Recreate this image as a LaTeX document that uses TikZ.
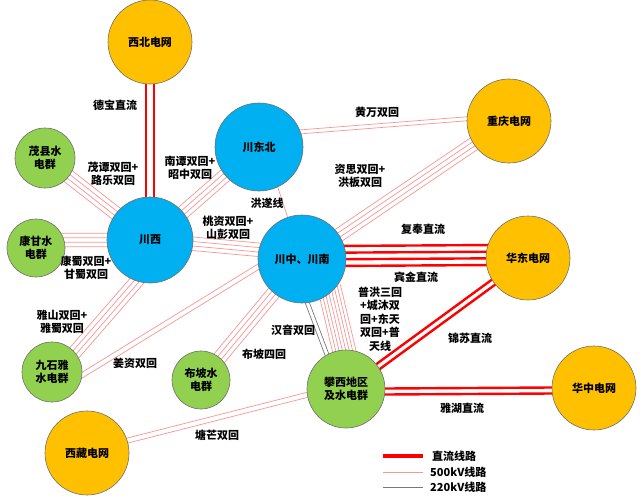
\documentclass[tikz,border=0pt]{standalone}
\usepackage{fontspec}
\newfontfamily\cjk{Noto Sans CJK SC}
\usetikzlibrary{calc}
\definecolor{ogrid}{HTML}{FFC000}
\definecolor{bgrid}{HTML}{00B0F0}
\definecolor{ggrid}{HTML}{92D050}
\definecolor{kvfive}{RGB}{247,150,150}
\definecolor{kvtwo}{RGB}{120,120,120}
\definecolor{dcred}{RGB}{255,0,0}
\definecolor{rim}{RGB}{110,110,110}
\newcommand{\lblfont}{\cjk\bfseries\fontsize{11}{13.5}\selectfont}
\pgfdeclarelayer{bg}
\pgfsetlayers{bg,main}
\newcommand{\bundle}[6]{%
  \foreach \o in {#5}{%
    \draw[#6] ($(#1.#2)!\o pt!90:(#3.#4)$) -- ($(#3.#4)!\o pt!-90:(#1.#2)$);
  }}
\tikzset{
  grid/.style={circle, draw=rim, line width=0.6pt, inner sep=0pt, align=center, font=\lblfont, text=black},
  lbl/.style={align=center, font=\lblfont, text=black, inner sep=1pt},
  kvfiveline/.style={draw=kvfive, line width=0.7pt, shorten <=-6pt, shorten >=-6pt},
  kvtwoline/.style={draw=kvtwo, line width=0.7pt, shorten <=-6pt, shorten >=-6pt},
  dcline/.style={draw=dcred, line width=2.4pt, shorten <=-6pt, shorten >=-6pt},
}
\begin{document}
\begin{tikzpicture}[x=1pt,y=-1pt]
\useasboundingbox (0,0) rectangle (641,499);
% nodes
\node[grid, fill=ogrid, minimum size=84pt] (xb) at (150,42) {西北电网};
\node[grid, fill=bgrid, minimum size=88pt] (cdb) at (259,147) {川东北};
\node[grid, fill=ggrid, minimum size=60pt] (mx) at (45,158) {茂县水\\电群};
\node[grid, fill=bgrid, minimum size=86pt] (cx) at (150,240) {川西};
\node[grid, fill=ggrid, minimum size=58pt] (kg) at (36,248) {康甘水\\电群};
\node[grid, fill=bgrid, minimum size=88pt] (cz) at (302,259) {川中、川南};
\node[grid, fill=ogrid, minimum size=84pt] (cq) at (509,121) {重庆电网};
\node[grid, fill=ogrid, minimum size=84pt] (hd) at (528,258) {华东电网};
\node[grid, fill=ggrid, minimum size=60pt] (jsy) at (52,372) {九石雅\\水电群};
\node[grid, fill=ggrid, minimum size=58pt] (bp) at (201,380) {布坡水\\电群};
\node[grid, fill=ogrid, minimum size=84pt] (xz) at (87,453) {西藏电网};
\node[grid, fill=ggrid, minimum size=78pt] (px) at (346,389) {攀西地区\\及水电群};
\node[grid, fill=ogrid, minimum size=84pt] (hz) at (594,388) {华中电网};
% connectors
\begin{pgfonlayer}{bg}
\fill[white] (0,0) rectangle (641,499);
\bundle{xb}{-90}{cx}{90}{-4,4}{dcline}
\bundle{mx}{-38}{cx}{142}{-6.75,-2.25,2.25,6.75}{kvfiveline}
\bundle{kg}{16}{cx}{180}{-6.75,-2.25,2.25,6.75}{kvfiveline}
\bundle{jsy}{41}{cx}{252}{-6.75,-2.25,2.25,6.75}{kvfiveline}
\bundle{jsy}{-6}{cz}{190}{-2.5,2.5}{kvfiveline}
\bundle{cx}{40.5}{cdb}{220.5}{-6.75,-2.25,2.25,6.75}{kvfiveline}
\bundle{cx}{-5}{cz}{168}{-6.75,-2.25,2.25,6.75}{kvfiveline}
\bundle{cdb}{-65}{cz}{109}{0}{kvfiveline}
\bundle{cdb}{20}{cq}{177}{-2,2}{kvfiveline}
\bundle{cz}{33.7}{cq}{213.7}{-6.75,-2.25,2.25,6.75}{kvfiveline}
\bundle{cz}{4}{hd}{176}{-10,-3.3,3.3,10}{dcline}
\bundle{px}{35.7}{hd}{215.7}{-3,3}{dcline}
\bundle{px}{0}{hz}{180}{-5.5,0.5}{dcline}
\bundle{xz}{13.9}{px}{193.9}{0.5,5.5}{kvfiveline}
\bundle{bp}{50}{cz}{230}{-6.75,-2.25,2.25,6.75}{kvfiveline}
\bundle{cz}{-50}{px}{93}{-11.55,-8.25,-4.95,-1.65,1.65,4.95,8.25,11.55}{kvfiveline}
\bundle{cz}{-83}{px}{119}{-2,2}{kvtwoline}
\end{pgfonlayer}
% labels
\node[lbl] (l1) at (115,105) {德宝直流};
\node[lbl] (l2) at (113,174) {茂谭双回+\\路乐双回};
\node[lbl] (l3) at (190,168) {南谭双回+\\昭中双回};
\node[lbl] (l4) at (267,203) {洪遂线};
\node[lbl] (l5) at (228,228) {桃资双回+\\山彭双回};
\node[lbl] (l6) at (377,112) {黄万双回};
\node[lbl] (l7) at (360,176) {资思双回+\\洪板双回};
\node[lbl] (l8) at (423,229) {复奉直流};
\node[lbl] (l9) at (86,268) {康蜀双回+\\甘蜀双回};
\node[lbl] (l10) at (62,322) {雅山双回+\\雅蜀双回};
\node[lbl] (l11) at (135,363) {姜资双回};
\node[lbl] (l12) at (264,354) {布坡四回};
\node[lbl] (l13) at (293,330) {汉音双回};
\node[lbl] (l14) at (217,435) {塘芒双回};
\node[lbl] (l15) at (416,277) {宾金直流};
\node[lbl] (l16) at (380,319) {普洪三回\\+城沐双\\回+东天\\双回+普\\天线};
\node[lbl] (l17) at (470,338) {锦苏直流};
\node[lbl] (l18) at (462,408) {雅湖直流};
% legend
\coordinate (g1a) at (383,456); \coordinate (g1b) at (423,456);
\coordinate (g2a) at (383,472); \coordinate (g2b) at (423,472);
\coordinate (g3a) at (383,487); \coordinate (g3b) at (423,487);
\draw[draw=dcred, line width=3.5pt] (g1a) -- (g1b);
\draw[draw=kvfive, line width=0.8pt] (g2a) -- (g2b);
\draw[draw=kvtwo, line width=1pt] (g3a) -- (g3b);
\node[lbl, anchor=west] (t1) at (431,456) {直流线路};
\node[lbl, anchor=west] (t2) at (429,472) {500kV线路};
\node[lbl, anchor=west] (t3) at (429,487) {220kV线路};
\end{tikzpicture}
\end{document}
